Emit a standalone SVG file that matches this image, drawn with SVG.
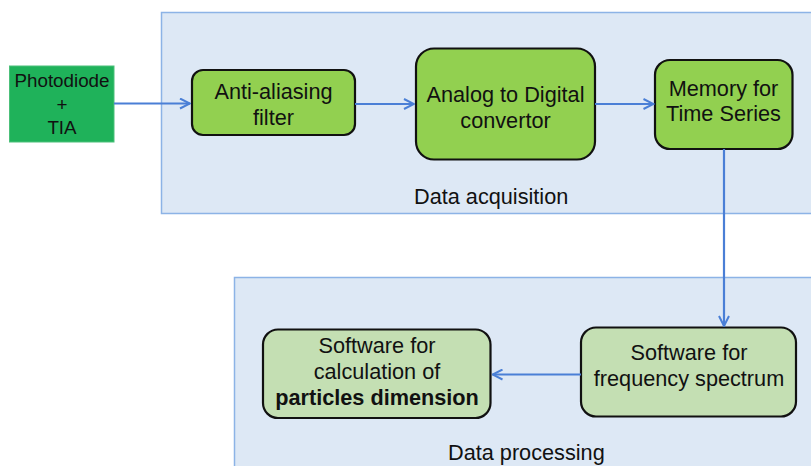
<svg xmlns="http://www.w3.org/2000/svg" width="811" height="466" viewBox="0 0 811 466">
<defs>
<style>
.panel{fill:#dde8f5;stroke:#8cb3e6;stroke-width:1.5}
.node{fill:#92d050;stroke:#111;stroke-width:2.2}
.node2{fill:#c4dfb3;stroke:#111;stroke-width:2.2}
.t{font-family:"Liberation Sans",Arial,sans-serif;font-size:21.7px;fill:#111;text-anchor:middle}
.lab{font-family:"Liberation Sans",Arial,sans-serif;font-size:21.7px;fill:#111}
.conn{stroke:#4a7fd6;stroke-width:2.2;fill:none}
</style>
<marker id="arr" viewBox="0 0 12 12" refX="11" refY="6" markerWidth="12" markerHeight="12" markerUnits="userSpaceOnUse" orient="auto">
<path d="M1,1 L11,6 L1,11" fill="none" stroke="#4a7fd6" stroke-width="2"/>
</marker>
</defs>
<rect width="811" height="466" fill="#fff"/>
<g id="panel-acq">
<rect class="panel" x="161.5" y="12.5" width="660" height="201"/>
<text class="lab" x="414" y="204">Data acquisition</text>
</g>
<g id="panel-proc">
<rect class="panel" x="234.5" y="277.5" width="590" height="200"/>
<text class="lab" x="448" y="460">Data processing</text>
</g>
<g id="photodiode">
<rect x="9.5" y="66" width="104.5" height="76" fill="#1fb25a" stroke="#4cc07a" stroke-width="1"/>
<text x="62" y="87" font-family="Liberation Sans,Arial,sans-serif" font-size="18.8" fill="#111" text-anchor="middle">Photodiode</text>
<text x="62" y="111" font-family="Liberation Sans,Arial,sans-serif" font-size="18.8" fill="#111" text-anchor="middle">+</text>
<text x="62" y="134" font-family="Liberation Sans,Arial,sans-serif" font-size="18.8" fill="#111" text-anchor="middle">TIA</text>
</g>
<g id="antialias">
<rect class="node" x="192" y="70" width="163" height="65" rx="11"/>
<text class="t" x="273.5" y="99">Anti-aliasing</text>
<text class="t" x="273.5" y="125">filter</text>
</g>
<g id="adc">
<rect class="node" x="416" y="48.5" width="179" height="111" rx="18"/>
<text class="t" x="505.5" y="102">Analog to Digital</text>
<text class="t" x="505.5" y="128">convertor</text>
</g>
<g id="memory">
<rect class="node" x="655" y="60" width="137.5" height="89" rx="15"/>
<text class="t" x="723.5" y="96">Memory for</text>
<text class="t" x="723.5" y="121">Time Series</text>
</g>
<g id="freq">
<rect class="node2" x="581" y="327.5" width="215" height="89" rx="15"/>
<text class="t" x="689" y="360">Software for</text>
<text class="t" x="689" y="386">frequency spectrum</text>
</g>
<g id="particles">
<rect class="node2" x="263" y="329.5" width="227.5" height="88.5" rx="15"/>
<text class="t" x="377" y="353">Software for</text>
<text class="t" x="377" y="379">calculation of</text>
<text class="t" x="377" y="405" font-weight="bold">particles dimension</text>
</g>
<g id="connectors">
<line class="conn" x1="114" y1="103.5" x2="190" y2="103.5" marker-end="url(#arr)"/>
<line class="conn" x1="355" y1="104" x2="414" y2="104" marker-end="url(#arr)"/>
<line class="conn" x1="595" y1="104" x2="653.5" y2="104" marker-end="url(#arr)"/>
<line class="conn" x1="724" y1="149" x2="724" y2="326" marker-end="url(#arr)"/>
<line class="conn" x1="581" y1="374.5" x2="492.5" y2="374.5" marker-end="url(#arr)"/>
</g>
</svg>
